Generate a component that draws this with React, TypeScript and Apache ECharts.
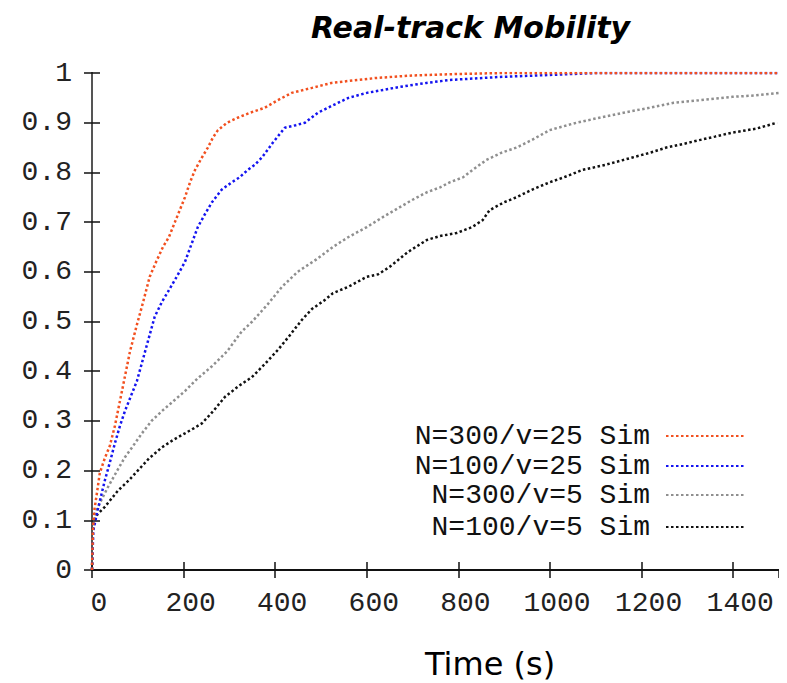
import React, { useEffect, useRef } from "react";
import * as echarts from "echarts";

const seriesNames = ["N=300/v=25 Sim", "N=100/v=25 Sim", "N=300/v=5 Sim", "N=100/v=5 Sim"];
const seriesColors = ["#f2501f", "#1414f0", "#8f8f8f", "#111111"];

const redT = [0, 2, 5, 10, 17, 28, 39, 50, 61, 72, 83, 97, 111, 126, 140, 155, 168, 181, 192, 203, 214, 225, 240, 253, 264, 275, 295, 318, 345, 377, 405, 436, 480, 523, 570, 620, 700, 800, 900, 1000, 1200, 1500];
const redV = [0, 0.08, 0.12, 0.15, 0.195, 0.225, 0.25, 0.29, 0.34, 0.39, 0.44, 0.49, 0.537, 0.59, 0.62, 0.65, 0.67, 0.7, 0.725, 0.75, 0.78, 0.805, 0.83, 0.85, 0.87, 0.885, 0.9, 0.91, 0.92, 0.93, 0.945, 0.96, 0.97, 0.98, 0.985, 0.99, 0.995, 0.998, 1.0, 1.0, 1.0, 1.0];

const blueT = [0, 3, 11, 20, 28, 40, 50, 61, 72, 85, 98, 110, 122, 137, 153, 166, 185, 203, 217, 231, 246, 262, 283, 305, 322, 340, 355, 371, 395, 421, 445, 465, 493, 526, 560, 600, 672, 730, 781, 890, 999, 1100, 1500];
const blueV = [0, 0.08, 0.115, 0.15, 0.18, 0.22, 0.255, 0.29, 0.32, 0.35, 0.38, 0.42, 0.46, 0.51, 0.54, 0.56, 0.59, 0.62, 0.655, 0.69, 0.715, 0.74, 0.765, 0.78, 0.79, 0.805, 0.815, 0.83, 0.86, 0.89, 0.895, 0.9, 0.92, 0.935, 0.95, 0.96, 0.972, 0.98, 0.986, 0.992, 0.996, 1.0, 1.0];

const grayT = [0, 2, 7, 20, 35, 55, 72, 90, 109, 130, 153, 178, 203, 230, 262, 295, 327, 350, 384, 415, 449, 490, 526, 560, 600, 635, 672, 700, 731, 760, 781, 810, 831, 861, 895, 927, 960, 999, 1058, 1108, 1160, 1217, 1270, 1326, 1398, 1450, 1500];
const grayV = [0, 0.08, 0.115, 0.14, 0.167, 0.2, 0.227, 0.25, 0.275, 0.3, 0.32, 0.34, 0.36, 0.385, 0.41, 0.44, 0.48, 0.5, 0.535, 0.57, 0.6, 0.625, 0.65, 0.67, 0.69, 0.71, 0.73, 0.745, 0.76, 0.77, 0.78, 0.79, 0.805, 0.825, 0.84, 0.85, 0.865, 0.885, 0.9, 0.91, 0.92, 0.93, 0.94, 0.945, 0.952, 0.955, 0.96];

const blackT = [0, 2, 10, 28, 57, 80, 100, 125, 153, 178, 203, 222, 240, 265, 290, 320, 349, 378, 406, 430, 458, 480, 508, 526, 560, 600, 625, 650, 690, 731, 760, 796, 830, 853, 868, 900, 927, 960, 999, 1030, 1071, 1120, 1180, 1220, 1254, 1290, 1326, 1360, 1398, 1450, 1496];
const blackV = [0, 0.09, 0.11, 0.127, 0.16, 0.18, 0.2, 0.225, 0.247, 0.262, 0.275, 0.285, 0.295, 0.32, 0.348, 0.37, 0.388, 0.415, 0.443, 0.47, 0.503, 0.525, 0.543, 0.557, 0.57, 0.59, 0.595, 0.61, 0.64, 0.664, 0.672, 0.678, 0.69, 0.704, 0.724, 0.74, 0.75, 0.765, 0.78, 0.79, 0.805, 0.815, 0.83, 0.84, 0.85, 0.857, 0.865, 0.872, 0.88, 0.888, 0.9];

const allT = [redT, blueT, grayT, blackT];
const allV = [redV, blueV, grayV, blackV];

const legendTops = [422, 452, 481, 513];

const mono = "'Liberation Mono', 'DejaVu Sans Mono', monospace";

export default function App() {
  const ref = useRef<HTMLDivElement>(null);
  useEffect(() => {
    if (!ref.current) return;
    const chart = echarts.init(ref.current, undefined, { renderer: "svg" });
    const axisLine = { show: true, lineStyle: { color: "#111", width: 2 } };
    const tick = { show: true, inside: true, length: 8, lineStyle: { color: "#111", width: 1.5 } };
    chart.setOption({
      animation: false,
      backgroundColor: "#fff",
      title: [
        {
          text: "Real-track Mobility",
          left: 306,
          top: 7,
          textStyle: { fontFamily: "'DejaVu Sans', sans-serif", fontStyle: "italic", fontWeight: "bold", fontSize: 30, color: "#000" },
        },
        {
          text: "Time (s)",
          left: 420,
          top: 643,
          textStyle: { fontFamily: "'DejaVu Sans', sans-serif", fontWeight: "normal", fontSize: 32, color: "#000" },
        },
      ],
      grid: { left: 92, top: 73, right: 8, bottom: 113, containLabel: false },
      legend: seriesNames.map((n, i) => ({
        data: [n],
        right: 40,
        top: legendTops[i],
        padding: 0,
        orient: "vertical",
        align: "right",
        itemWidth: 80,
        itemHeight: 6,
        itemStyle: { opacity: 0 },
        textStyle: { fontFamily: mono, fontSize: 28, lineHeight: 24, color: "#111", padding: [0, 11, 0, 0] },
        selectedMode: false,
      })),
      xAxis: [
        {
          type: "value",
          min: 0,
          max: 1500,
          interval: 200,
          position: "bottom",
          axisLine,
          axisTick: tick,
          splitLine: { show: false },
          axisLabel: {
            showMaxLabel: false,
            formatter: (v: number) => String(v),
            fontFamily: mono,
            fontSize: 28,
            color: "#222",
            margin: 19,
            padding: [0, 0, 0, 14],
          },
        },
        {
          type: "value",
          min: 0,
          max: 1500,
          interval: 200,
          position: "top",
          axisLine,
          axisTick: tick,
          splitLine: { show: false },
          axisLabel: { show: false },
        },
      ],
      yAxis: [
        {
          type: "value",
          min: 0,
          max: 1,
          interval: 0.1,
          position: "left",
          axisLine,
          axisTick: tick,
          splitLine: { show: false },
          axisLabel: { fontFamily: mono, fontSize: 28, color: "#222", margin: 20 },
        },
        {
          type: "value",
          min: 0,
          max: 1,
          interval: 0.1,
          position: "right",
          axisLine: { show: true, lineStyle: { color: "#555", width: 2 } },
          axisTick: tick,
          splitLine: { show: false },
          axisLabel: { show: false },
        },
      ],
      series: seriesNames.map((n, i) => ({
        name: n,
        type: "line",
        xAxisIndex: 0,
        yAxisIndex: 0,
        symbol: "none",
        color: seriesColors[i],
        lineStyle: { color: seriesColors[i], width: 2.5, type: [2.5, 2.5] },
        data: allT[i].map((t, k) => [t, allV[i][k]]),
        z: 10 - i,
      })),
    });
    return () => chart.dispose();
  }, []);
  return <div ref={ref} style={{ width: 787, height: 683, marginLeft: -8, marginTop: -8 }} />;
}
